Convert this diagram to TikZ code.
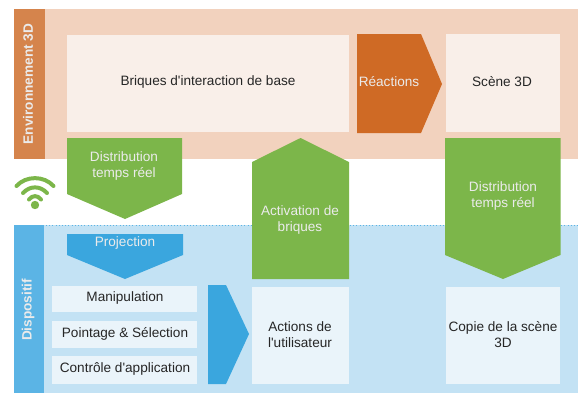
\documentclass[tikz,border=0pt]{standalone}
\usepackage{fontspec}
\setmainfont{Liberation Sans}
\definecolor{envbg}{HTML}{F2D2BE}
\definecolor{envtab}{HTML}{D5844C}
\definecolor{envbox}{HTML}{F9EFE9}
\definecolor{reacol}{HTML}{CF6A25}
\definecolor{disbg}{HTML}{C3E2F4}
\definecolor{distab}{HTML}{5BB4E5}
\definecolor{disbox}{HTML}{EAF4FA}
\definecolor{projcol}{HTML}{3AA6DE}
\definecolor{greencol}{HTML}{7CB64A}
\tikzstyle{brick}=[font=\fontsize{10.2pt}{12pt}\selectfont,align=center,text=black!85,inner sep=0pt]
\tikzstyle{whitetext}=[font=\fontsize{10.2pt}{12pt}\selectfont,align=center,text=white!92!black,inner sep=0pt]
\tikzstyle{tabtext}=[whitetext,rotate=90,font=\fontsize{10.2pt}{12pt}\selectfont\bfseries]
\tikzstyle{wifi}=[draw=greencol,line width=3pt,line cap=round]
\begin{document}
\begin{tikzpicture}[x=0.75pt,y=-0.75pt]
\useasboundingbox (0,0) rectangle (578,393);
% Background bands
\fill[envbg] (14,9) rectangle (578,158.5);
\fill[disbg] (14,225) rectangle (578,393);
\fill[envtab] (14,9) rectangle (45,158.5);
\fill[distab] (14,225) rectangle (44,393);
\draw[distab,dotted] (14,225) -- (578,225);
\node[tabtext] (env) at (28,84) {Environnement 3D};
\node[tabtext] (dis) at (28,310) {Dispositif};
% Boxes
\fill[envbox] (67,35) rectangle (349,132);
\node[brick] (briques) at (208,82) {Briques d\textquotesingle interaction de base};
\fill[envbox] (446,34) rectangle (560,132);
\node[brick] (scene) at (502,82) {Scène 3D};
\fill[disbox] (52,286) rectangle (197,312);
\node[brick] (manip) at (125,298) {Manipulation};
\fill[disbox] (52,321) rectangle (197,348);
\node[brick] (point) at (125,333.5) {Pointage \& Sélection};
\fill[disbox] (52,356) rectangle (197,384);
\node[brick] (ctrl) at (125,369) {Contrôle d\textquotesingle application};
\fill[disbox] (252,287) rectangle (349,384);
\node[brick] (actions) at (300,334.5) {Actions de\\l\textquotesingle utilisateur};
\fill[disbox] (446,287) rectangle (560,384);
\node[brick] (copie) at (503,334.5) {Copie de la scène\\3D};
% Arrows
\fill[reacol] (357,34) -- (421,34) -- (442,84) -- (421,133) -- (357,133) -- cycle;
\node[whitetext] (reac) at (389,82) {Réactions};
\fill[greencol] (67,138) -- (182,138) -- (182,194) -- (125,219) -- (67,194) -- cycle;
\node[whitetext] (dist1) at (124,165.5) {Distribution\\temps réel};
\fill[greencol] (252,162) -- (300.5,138) -- (349,162) -- (349,279) -- (252,279) -- cycle;
\node[whitetext] (activ) at (300,219.5) {Activation de\\briques};
\fill[greencol] (445,138) -- (560.5,138) -- (560.5,255) -- (503,279) -- (445,255) -- cycle;
\node[whitetext] (dist2) at (503,195.5) {Distribution\\temps réel};
\fill[projcol] (67,234) -- (183,234) -- (183,255) -- (125,279) -- (67,255) -- cycle;
\node[whitetext] (proj) at (125,243) {Projection};
\fill[projcol] (208,285) -- (226,285) -- (249,334) -- (226,384) -- (208,384) -- cycle;
% Wifi symbol
\fill[greencol] (35,205) circle (4.2);
\draw[wifi] (16.5,186) .. controls (26,175.5) and (44,175.5) .. (53.5,186);
\draw[wifi] (23,193) .. controls (30,185.5) and (40,185.5) .. (47,193);
\draw[wifi] (29,199.5) .. controls (32.5,195) and (37.5,195) .. (41,199.5);
\end{tikzpicture}
\end{document}
